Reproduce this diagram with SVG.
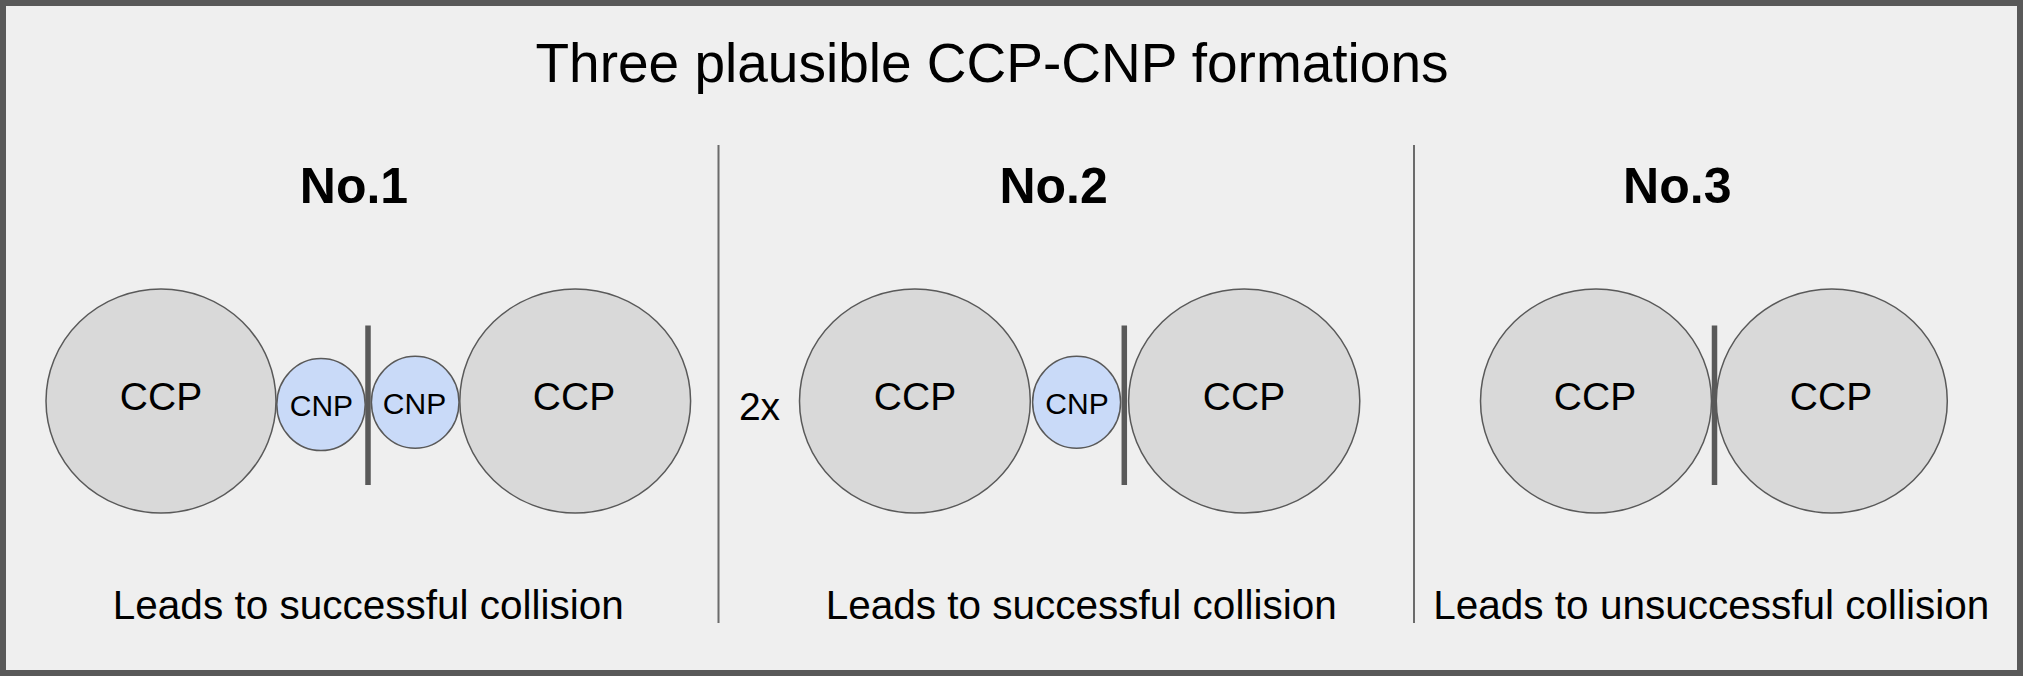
<svg xmlns="http://www.w3.org/2000/svg" width="2023" height="676" viewBox="0 0 2023 676">
<style>
text{font-family:"Liberation Sans",Arial,sans-serif;fill:#000;text-anchor:middle}
.ccp{fill:#d9d9d9;stroke:#595959;stroke-width:1.5}
.cnp{fill:#c9daf8;stroke:#595959;stroke-width:1.5}
.bar{stroke:#595959;stroke-width:5.5}
.div{stroke:#6b6b6b;stroke-width:2}
.lbl{font-size:39px}
.sm{font-size:30px}
.hd{font-size:50px;font-weight:bold}
.cap{font-size:40.5px}
</style>
<rect x="3" y="3" width="2017" height="670" fill="#efefef" stroke="#595959" stroke-width="6"/>
<text id="title" x="992" y="82" style="font-size:55px">Three plausible CCP-CNP formations</text>
<g id="dividers">
<line class="div" x1="718.5" y1="145" x2="718.5" y2="623"/>
<line class="div" x1="1414" y1="145" x2="1414" y2="623"/>
</g>
<g id="connectors">
<line class="bar" x1="368" y1="325.5" x2="368" y2="485"/>
<line class="bar" x1="1124.3" y1="325.5" x2="1124.3" y2="485"/>
<line class="bar" x1="1714.5" y1="325.5" x2="1714.5" y2="485"/>
</g>
<g id="no1">
<text class="hd" x="354" y="202.5">No.1</text>
<g id="n1-ccp-left"><ellipse class="ccp" cx="161" cy="401" rx="115" ry="112"/><text class="lbl" x="161" y="409.5">CCP</text></g>
<g id="n1-cnp-left"><ellipse class="cnp" cx="321" cy="404.6" rx="44.2" ry="46"/><text class="sm" x="321.4" y="415.5">CNP</text></g>
<g id="n1-cnp-right"><ellipse class="cnp" cx="415.2" cy="402.2" rx="43.8" ry="46"/><text class="sm" x="414.5" y="413.5">CNP</text></g>
<g id="n1-ccp-right"><ellipse class="ccp" cx="575.2" cy="401" rx="115.4" ry="112"/><text class="lbl" x="574" y="409.5">CCP</text></g>
<text class="cap" x="368.3" y="618.5">Leads to successful collision</text>
</g>
<g id="no2">
<text class="hd" x="1053.6" y="202.5">No.2</text>
<text class="lbl" x="759.5" y="420">2x</text>
<g id="n2-ccp-left"><ellipse class="ccp" cx="914.9" cy="401" rx="115.4" ry="112"/><text class="lbl" x="915" y="409.5">CCP</text></g>
<g id="n2-cnp"><ellipse class="cnp" cx="1076.6" cy="402.2" rx="44" ry="46"/><text class="sm" x="1077" y="413.5">CNP</text></g>
<g id="n2-ccp-right"><ellipse class="ccp" cx="1244.2" cy="401" rx="115.6" ry="112"/><text class="lbl" x="1244" y="409.5">CCP</text></g>
<text class="cap" x="1081.2" y="618.5">Leads to successful collision</text>
</g>
<g id="no3">
<text class="hd" x="1677.3" y="202.5">No.3</text>
<g id="n3-ccp-left"><ellipse class="ccp" cx="1596" cy="401" rx="115.5" ry="112"/><text class="lbl" x="1595" y="409.5">CCP</text></g>
<g id="n3-ccp-right"><ellipse class="ccp" cx="1831.8" cy="401" rx="115.5" ry="112"/><text class="lbl" x="1831" y="409.5">CCP</text></g>
<text class="cap" x="1711.3" y="618.5">Leads to unsuccessful collision</text>
</g>
</svg>
